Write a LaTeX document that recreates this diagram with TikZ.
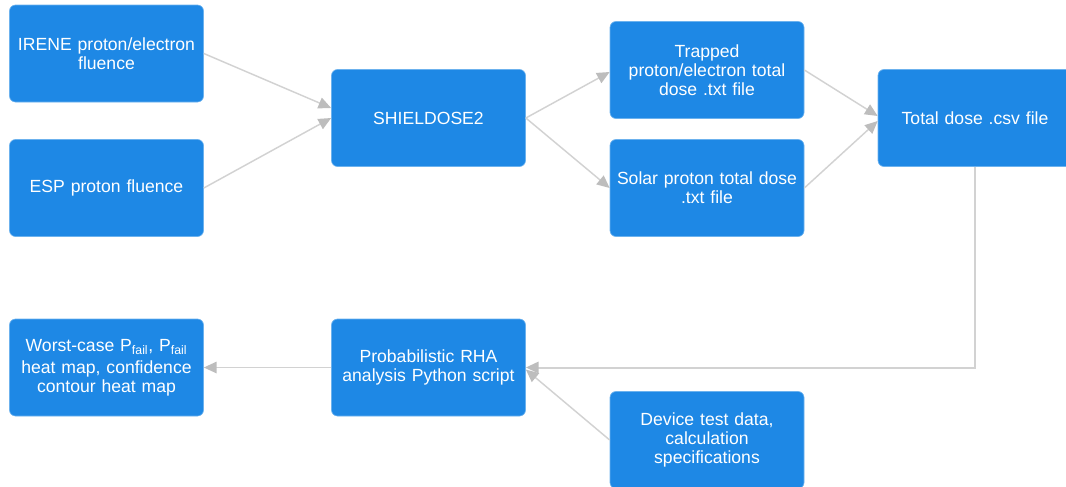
\documentclass[tikz,border=0pt]{standalone}
\usepackage{fontspec}
\setmainfont{Liberation Sans}
\usetikzlibrary{arrows.meta,calc}
\definecolor{boxblue}{HTML}{1E88E5}
\definecolor{boxedge}{HTML}{6CB2EE}
\definecolor{linegrey}{HTML}{D2D2D2}
\definecolor{tipgrey}{HTML}{BDBDBD}
\tikzset{
  flowbox/.style={rectangle, rounded corners=4.5pt, fill=boxblue, draw=boxedge, line width=0.5pt,
    minimum width=145.5pt, minimum height=72.75pt, text width=143pt, align=center,
    text=white, font=\fontsize{13.2pt}{14.4pt}\selectfont, inner sep=0pt},
  conn/.style={draw=linegrey, line width=1.1pt,
    -{Triangle[length=9.5pt,width=8.5pt,color=tipgrey]}, shorten >=0pt},
}
\begin{document}
\begin{tikzpicture}[x=0.75pt,y=-0.75pt]
\useasboundingbox (0,0) rectangle (1066,486);
\clip (0,0) rectangle (1066,486);
\node[flowbox] (irene) at (106.5,53.5) {IRENE proton/electron\\fluence};
\node[flowbox] (esp) at (106.5,188) {ESP proton fluence};
\node[flowbox] (shield) at (428.5,118) {SHIELDOSE2};
\node[flowbox] (trapped) at (707,70) {Trapped\\proton/electron total\\dose .txt file};
\node[flowbox] (solar) at (707,188) {Solar proton total dose\\.txt file};
\node[flowbox] (total) at (975,118) {Total dose .csv file};
\node[flowbox] (worst) at (106.5,367.5) {Worst-case P\textsubscript{fail}, P\textsubscript{fail}\\[2pt]heat map, confidence\\contour heat map};
\node[flowbox] (prob) at (428.5,367.5) {Probabilistic RHA\\analysis Python script};
\node[flowbox] (device) at (707,440) {Device test data,\\calculation\\specifications};
\coordinate (corner) at (total.south |- prob.east);
\draw[conn] (irene.east) -- ($(shield.west)+(0,-10)$);
\draw[conn] (esp.east) -- ($(shield.west)+(0,0)$);
\draw[conn] (shield.east) -- ($(trapped.west)+(0,2)$);
\draw[conn] (shield.east) -- (solar.west);
\draw[conn] (trapped.east) -- ($(total.west)+(0,-2)$);
\draw[conn] (solar.east) -- ($(total.west)+(0,3)$);
\draw[conn, line width=1.5pt] (total.south) -- (corner) -- (prob.east);
\draw[conn] (device.west) -- ($(prob.east)+(0,2)$);
\draw[conn] (prob.west) -- (worst.east);
\end{tikzpicture}
\end{document}
